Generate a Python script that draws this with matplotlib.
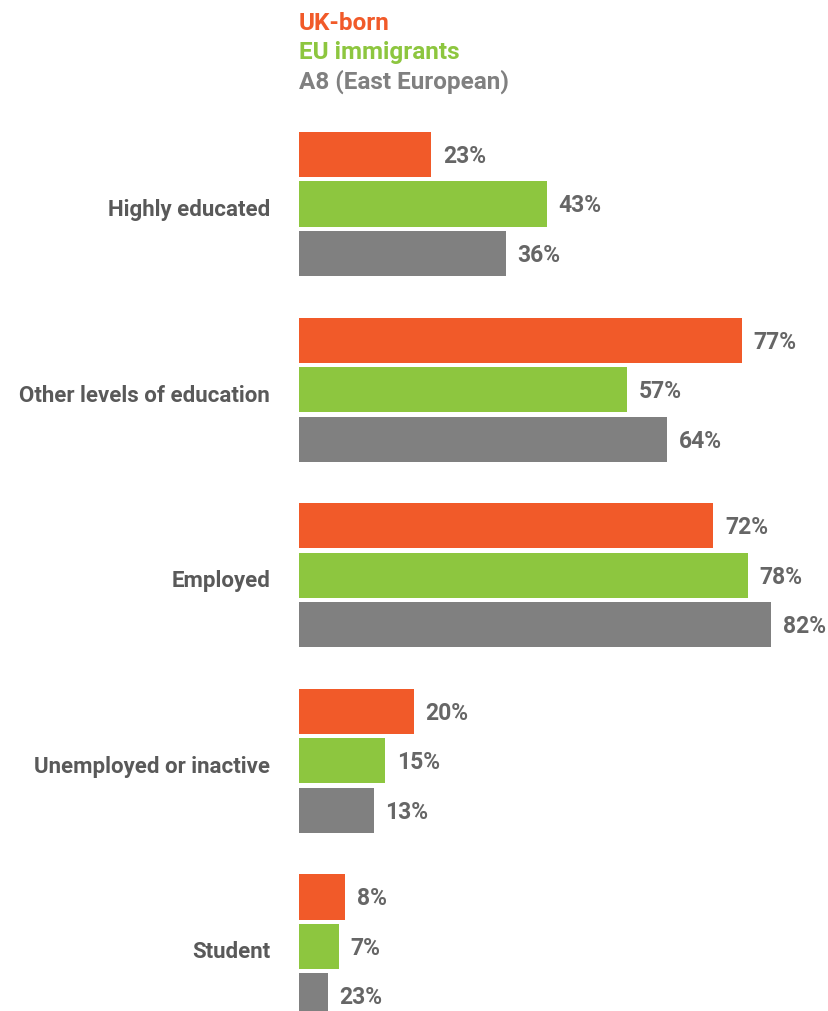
import matplotlib.pyplot as plt

# Data
categories = ["Highly educated", "Other levels of education", "Employed",
              "Unemployed or inactive", "Student"]
series_names = ["UK-born", "EU immigrants", "A8 (East European)"]
uk_born = [23, 77, 72, 20, 8]
eu_immigrants = [43, 57, 78, 15, 7]
a8 = [36, 64, 82, 13, 5]
# printed labels (the A8 student label reads 23% in the source)
uk_labels = ["23%", "77%", "72%", "20%", "8%"]
eu_labels = ["43%", "57%", "78%", "15%", "7%"]
a8_labels = ["36%", "64%", "82%", "13%", "23%"]

colors = ["#F15A29", "#8DC63F", "#808080"]
text_color = "#666666"

plt.rcParams['font.family'] = ["Roboto", "DejaVu Sans"]

fig = plt.figure(figsize=(8.29, 10.12), dpi=100)
ax = fig.add_axes([0, 0, 1, 1])

px_per_pct = 5.756
bar_px = 49.5
group_step = 3.75
ax.set_xlim(-299 / px_per_pct, 530 / px_per_pct)
ax.set_ylim((1012 - 155.5) / bar_px, -155.5 / bar_px)
ax.axis("off")

all_values = [uk_born, eu_immigrants, a8]
all_labels = [uk_labels, eu_labels, a8_labels]
for k, (vals, labs) in enumerate(zip(all_values, all_labels)):
    ys = [g * group_step + k for g in range(len(categories))]
    ax.barh(ys, vals, height=0.91, color=colors[k])
    for y, v, lab in zip(ys, vals, labs):
        ax.text(v + 2.0, y + 0.02, lab, ha="left", va="center", fontsize=16.5,
                fontweight="bold", color=text_color)

for g, cat in enumerate(categories):
    ax.text(-5.0, g * group_step + 1.1, cat, ha="right", va="center",
            fontsize=16, fontweight="bold", color="#595959")

# legend as coloured text
for k, name in enumerate(series_names):
    fig.text(299 / 829, 1 - (23 + k * 29.5) / 1012, name, ha="left", va="center",
             fontsize=17.5, fontweight="bold", color=colors[k])

fig.savefig("out.png", dpi=100)
